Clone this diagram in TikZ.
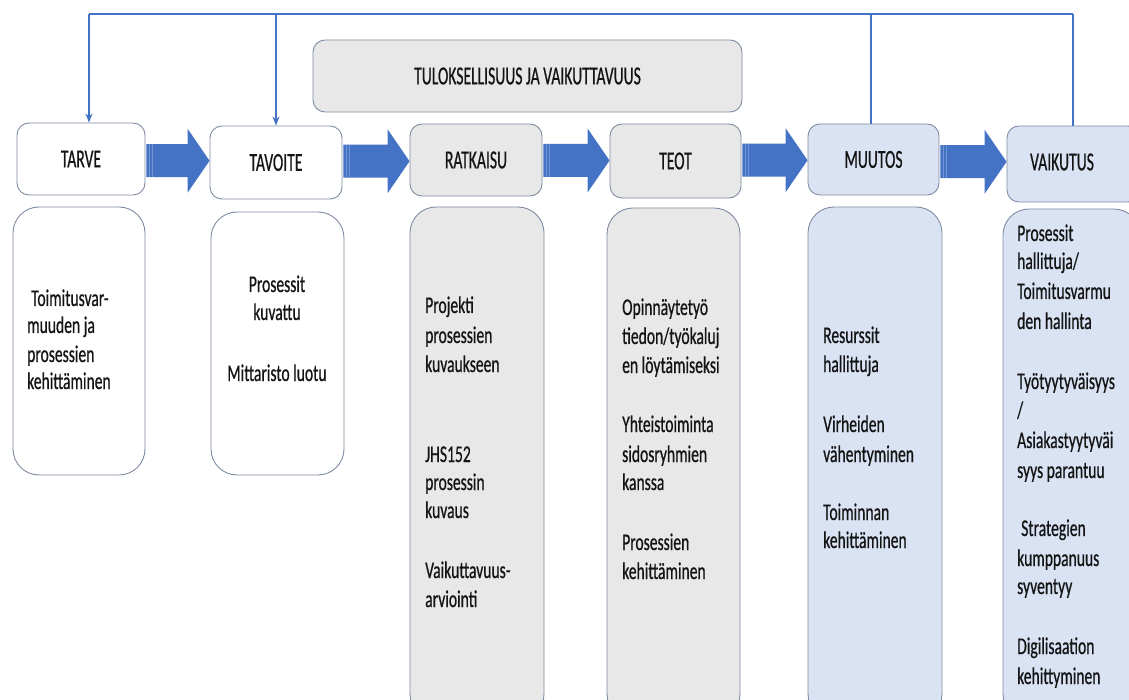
\documentclass[tikz,border=0pt]{standalone}
\usepackage{fontspec}
\newfontfamily\bodyfont[FakeStretch=0.65,FakeBold=0.6]{Carlito}
\newfontfamily\headfont[FakeStretch=0.6,FakeBold=0.6]{Carlito}
\usetikzlibrary{calc,arrows.meta}
\definecolor{flowblue}{HTML}{4472C4}
\definecolor{edgegray}{HTML}{7F8CA3}
\definecolor{boxgray}{HTML}{E8E8E8}
\definecolor{boxblue}{HTML}{DAE3F3}
\definecolor{ink}{HTML}{141414}

% wide block arrow between two stage boxes
\newcommand\flowarrow[2]{%
  \coordinate (mid-#1) at ($(#1.east)!0.5!(#2.west)$);
  \fill[flowblue] let \p1=(#1.east), \p2=(#2.west), \p3=(mid-#1) in
    (\x1+1pt,\y3+16.5pt) -- (\x2-22pt,\y3+16.5pt) -- (\x2-22pt,\y3+32pt) --
    (\x2,\y3) -- (\x2-22pt,\y3-32pt) -- (\x2-22pt,\y3-16.5pt) --
    (\x1+1pt,\y3-16.5pt) -- cycle;
  \draw[flowblue!75!white, line width=0.6pt] let \p1=(#1.east), \p3=(mid-#1) in
    (\x1+3.5pt,\y3+16.5pt) -- (\x1+3.5pt,\y3-16.5pt)
    (\x1+6.5pt,\y3+16.5pt) -- (\x1+6.5pt,\y3-16.5pt);
}

\begin{document}
\begin{tikzpicture}[x=1pt,y=-1pt,
  stage/.style={draw=edgegray, line width=0.9pt, rounded corners=12pt, inner sep=0pt,
    font=\headfont\fontsize{26}{30}\selectfont, text=ink},
  listbox/.style={draw=edgegray, line width=0.9pt, rounded corners=26pt, inner sep=0pt},
  head/.style={font=\headfont\fontsize{26}{30}\selectfont, text=ink, inner sep=0pt},
  item/.style={font=\bodyfont\fontsize{24}{29}\selectfont, text=ink, inner sep=0pt, anchor=base west},
  itemc/.style={item, anchor=base},
  feed/.style={draw=flowblue, line width=1.6pt},
  tip/.style={-{Stealth[length=9pt,width=7pt]}}]

\useasboundingbox (0,0) rectangle (1129,700);
\fill[white] (0,0) rectangle (1129,700);
\clip (0,0) rectangle (1129,700);

% overall heading
\node[stage, fill=boxgray, minimum width=429pt, minimum height=72pt] (goal) at (527.5,76)
  {TULOKSELLISUUS JA VAIKUTTAVUUS};

% stage boxes
\node[stage, fill=white, minimum width=128pt, minimum height=72pt] (tarve) at (81,159) {TARVE};
\node[stage, fill=white, minimum width=132pt, minimum height=73pt] (tavoite) at (276,162.5) {TAVOITE};
\node[stage, fill=boxgray, minimum width=132pt, minimum height=72pt] (ratkaisu) at (476,160) {RATKAISU};
\node[stage, fill=boxgray, minimum width=131pt, minimum height=74pt] (teot) at (675.5,161) {TEOT};
\node[stage, fill=boxblue, minimum width=131pt, minimum height=71pt] (muutos) at (873.5,159.5) {MUUTOS};
\node[stage, fill=boxblue, minimum width=133pt, minimum height=76pt] (vaikutus) at (1073.5,164) {};
\node[head] (vaikutuslbl) at (1062,162) {VAIKUTUS};

% block arrows
\flowarrow{tarve}{tavoite}
\flowarrow{tavoite}{ratkaisu}
\flowarrow{ratkaisu}{teot}
\flowarrow{teot}{muutos}
\flowarrow{muutos}{vaikutus}

% feedback line along the top
\coordinate (t1) at (89,14);
\coordinate (t2) at (276,14);
\coordinate (t3) at (871,14);
\coordinate (t4) at (1073,14);
\draw[feed, line width=2.5pt] (t1) -- (t4);
\draw[feed, tip] (t1) -- (t1 |- tarve.north);
\draw[feed, tip] (t2) -- (t2 |- tavoite.north);
\draw[feed] (t3) -- (t3 |- muutos.north);
\draw[feed] (t4) -- (t4 |- vaikutus.north);

% content boxes
\node[listbox, fill=white, minimum width=132pt, minimum height=268pt] (needbox) at (79,341) {};
\node[listbox, fill=white, minimum width=133pt, minimum height=263pt] (aimbox) at (277.5,343.5) {};
\node[listbox, fill=boxgray, minimum width=134pt, minimum height=513pt] (solbox) at (477,463.5) {};
\node[listbox, fill=boxgray, minimum width=133pt, minimum height=512pt] (actbox) at (673.5,464) {};
\node[listbox, fill=boxblue, minimum width=134pt, minimum height=513pt] (chgbox) at (875,463.5) {};
\node[listbox, fill=boxblue, minimum width=137pt, minimum height=511pt] (effbox) at (1071.5,464.5) {};

\foreach \yy/\txt [count=\i] in {306/{\hspace{4pt}Toimitusvar-}, 333/{muuden ja}, 362/prosessien, 389/kehittäminen}
  \node[item] (need\i) at (27,\yy) {\txt};

\foreach \yy/\txt [count=\i] in {292/Prosessit, 320/kuvattu, 381/{Mittaristo luotu}}
  \node[itemc] (aim\i) at (277,\yy) {\txt};

\foreach \yy/\txt [count=\i] in {313/Projekti, 343/prosessien, 372/kuvaukseen, 462/JHS152,
    490/prosessin, 518/kuvaus, 578/Vaikuttavuus-, 607/arviointi}
  \node[item] (sol\i) at (425,\yy) {\txt};

\foreach \yy/\txt [count=\i] in {315/Opinnäytetyö, 344/{tiedon/työkaluj}, 373/{en löytämiseksi},
    432/Yhteistoiminta, 462/sidosryhmien, 490/kanssa, 550/Prosessien, 579/kehittäminen}
  \node[item] (act\i) at (622,\yy) {\txt};

\foreach \yy/\txt [count=\i] in {343/Resurssit, 372/hallittuja, 432/Virheiden, 462/vähentyminen,
    520/Toiminnan, 548/kehittäminen}
  \node[item] (chg\i) at (823,\yy) {\txt};

\foreach \yy/\txt [count=\i] in {241/Prosessit, 269/{hallittuja/}, 299/Toimitusvarmu, 329/{den hallinta},
    389/Työtyytyväisyys, 418/{/}, 448/Asiakastyytyväi, 478/{syys parantuu},
    536/{\hspace{4pt}Strategien}, 566/kumppanuus, 594/syventyy, 654/Digilisaation, 684/kehittyminen}
  \node[item] (eff\i) at (1017,\yy) {\txt};

\end{tikzpicture}
\end{document}
